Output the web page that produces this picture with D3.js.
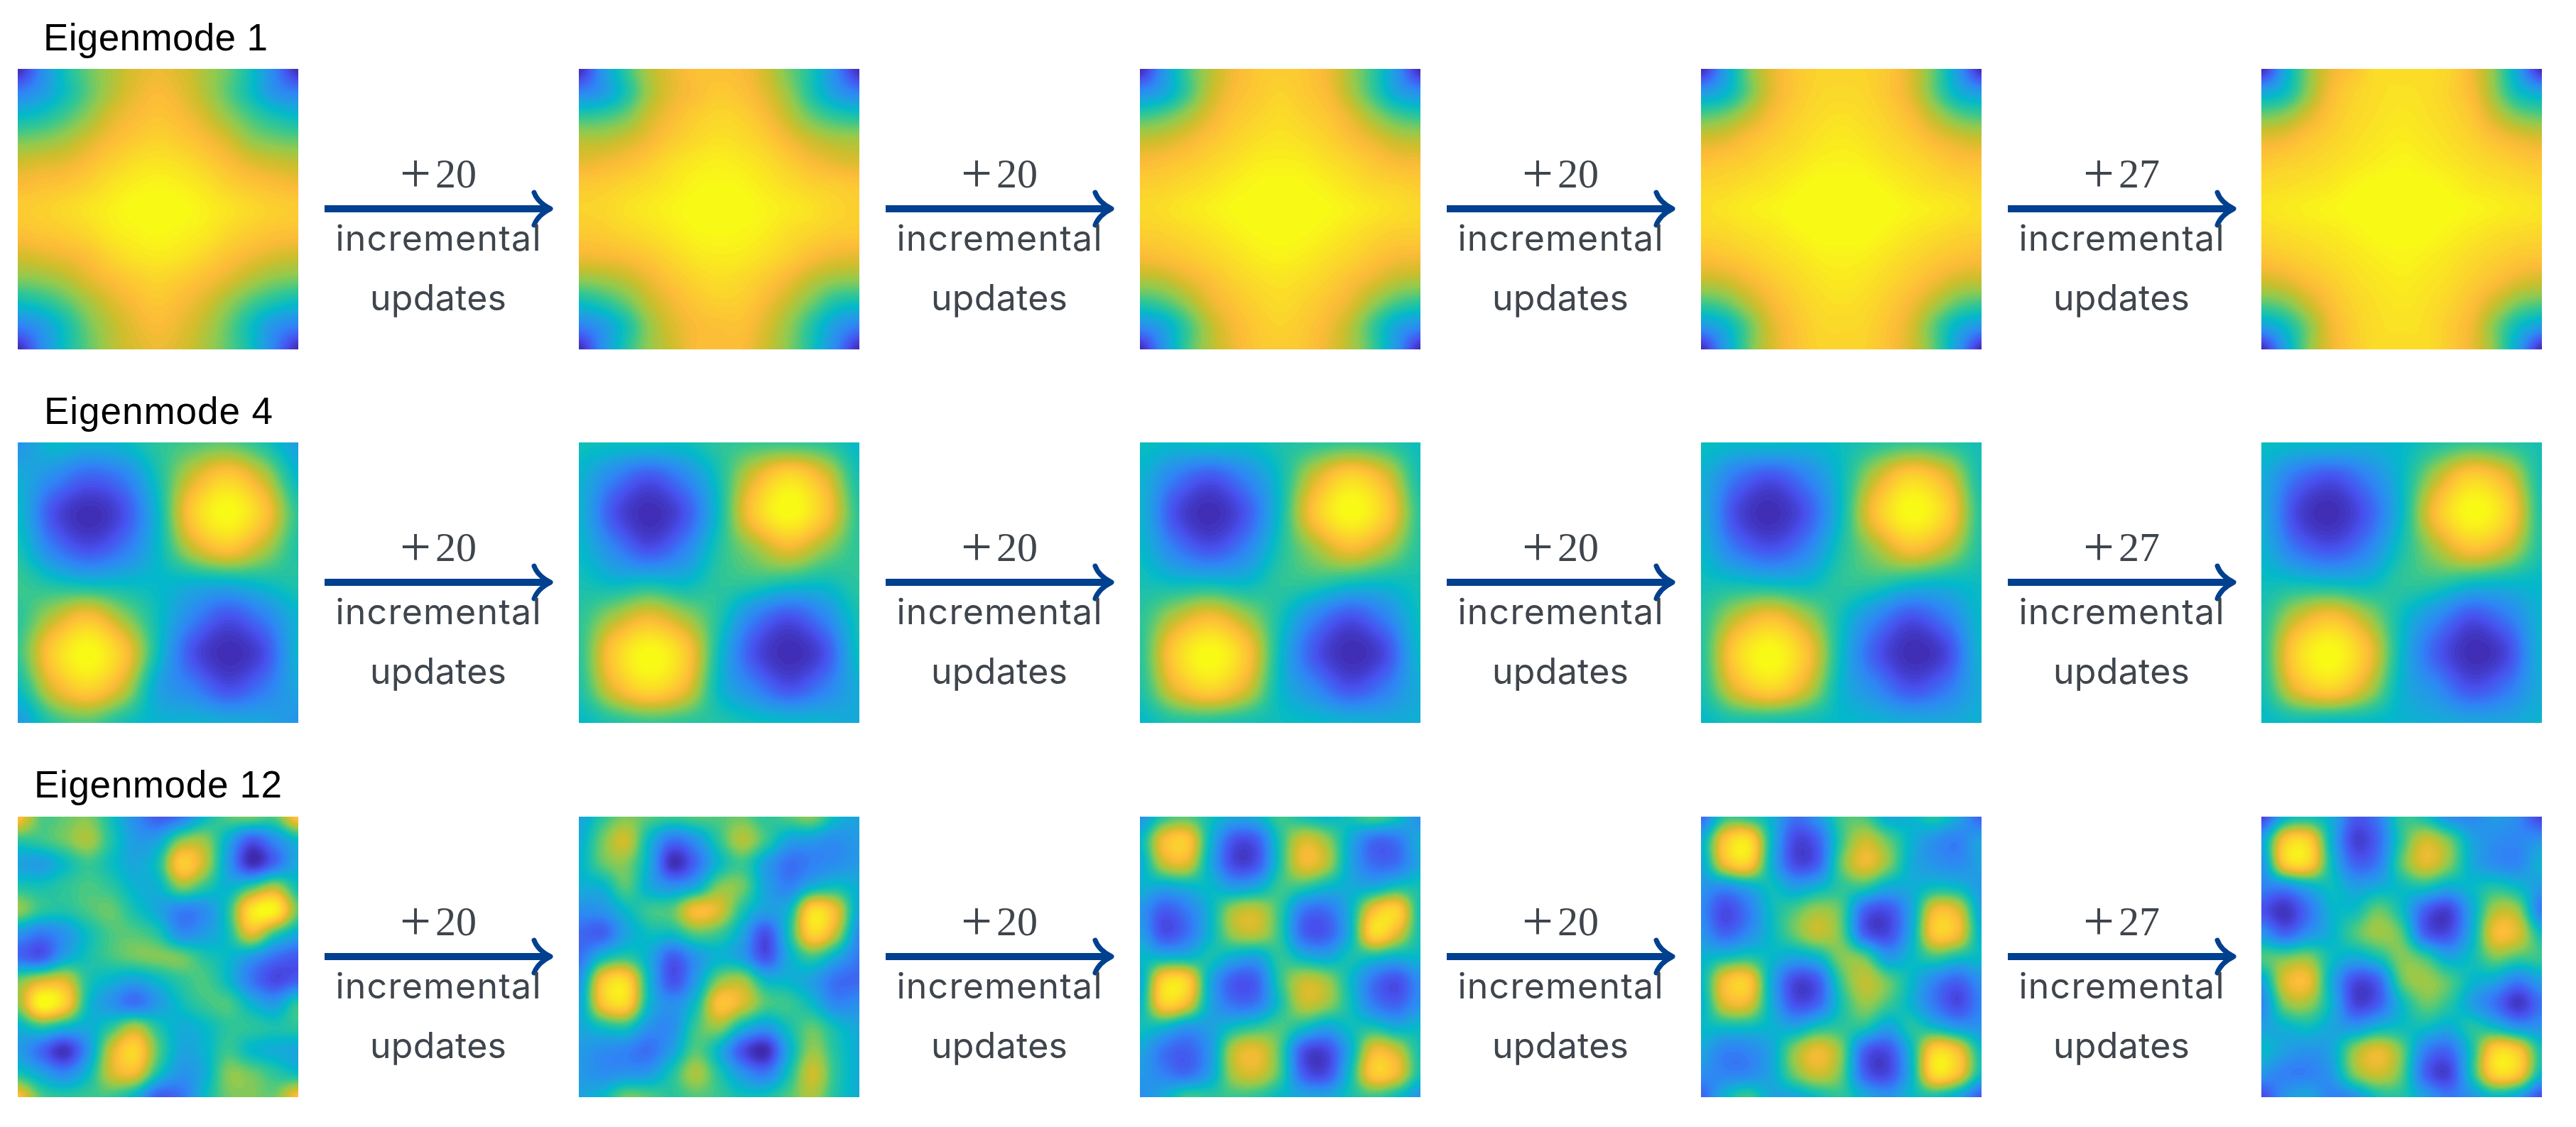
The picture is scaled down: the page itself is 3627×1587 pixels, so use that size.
<!DOCTYPE html>
<html>
<head>
<meta charset="utf-8">
<script src="https://cdn.jsdelivr.net/npm/d3@7"></script>
<style>
  html, body { margin: 0; background: #fff; }
  svg { display: block; }
</style>
</head>
<body>
<div id="chart"></div>
<script>
// labels
const rowLabels = ['Eigenmode 1', 'Eigenmode 4', 'Eigenmode 12'];
const updateCounts = [20, 20, 20, 27];
const captionLines = ['incremental', 'updates'];

// colour map stops, value in percent of the panel range
const colorStops = [0, 12, 25, 36, 42, 52, 62, 70, 78, 87, 100];
const colorValues = ['#3e26a8', '#4750ee', '#2f85f5', '#1aa6dc', '#02b9c9', '#35c790', '#94ca4c', '#cfbd2b', '#fdbb38', '#fbd52c', '#f9fb15'];

// values, 0 to 100, rows top to bottom
const mode1Step0 = [
  [2,26,45,57,65,72,75,72,65,57,44,25,2],
  [24,32,44,56,66,74,78,74,66,56,44,30,24],
  [42,46,53,62,72,78,81,78,71,62,53,46,42],
  [58,60,64,71,78,83,86,83,78,71,62,58,56],
  [70,72,74,79,85,90,92,90,85,79,73,70,68],
  [78,80,82,86,92,96,98,96,92,86,82,79,77],
  [84,85,88,92,96,100,100,100,96,92,88,85,84],
  [80,82,84,88,94,97,99,97,94,88,84,81,80],
  [71,73,76,80,87,92,94,92,87,81,76,72,70],
  [60,62,66,73,79,84,87,84,79,73,66,61,59],
  [44,48,55,64,72,78,82,78,72,63,54,47,43],
  [24,32,45,58,67,74,78,74,67,57,44,30,24],
  [2,26,44,56,66,72,75,72,65,56,44,24,2]
];
const mode1Step1 = [
  [2,30,50,66,74,80,80,78,70,58,46,26,2],
  [25,32,47,64,74,79,83,80,73,62,47,33,24],
  [50,52,58,70,78,84,87,85,78,68,57,50,47],
  [66,66,70,76,83,88,91,89,84,76,69,65,64],
  [74,76,79,84,90,94,96,94,90,84,78,74,72],
  [83,84,87,90,94,98,99,98,94,90,86,84,82],
  [86,87,91,94,97,100,100,100,97,94,91,87,85],
  [83,84,87,90,94,98,99,98,95,90,87,84,83],
  [76,77,79,83,88,93,95,94,90,85,79,75,74],
  [62,64,68,75,82,87,90,88,83,76,68,63,62],
  [44,49,57,68,76,82,85,84,77,68,58,48,45],
  [24,32,46,62,72,78,80,80,72,62,48,33,24],
  [2,28,48,62,70,78,79,78,70,60,46,26,2]
];
const mode1Step2 = [
  [2,30,52,66,76,82,84,82,76,64,50,30,2],
  [28,36,52,68,78,83,86,83,78,66,52,36,28],
  [52,56,64,74,82,86,89,86,82,74,63,54,50],
  [68,70,75,81,86,90,92,90,86,80,74,68,66],
  [78,80,83,87,91,95,96,95,91,87,82,78,77],
  [85,86,89,92,96,99,100,99,96,92,88,86,84],
  [88,90,93,96,99,100,100,100,99,96,93,90,88],
  [85,86,89,92,96,99,100,99,96,92,88,85,85],
  [78,80,83,87,91,95,97,95,91,87,82,78,77],
  [66,68,74,80,86,90,92,90,86,80,74,68,66],
  [50,54,63,74,81,86,89,86,81,74,63,54,50],
  [28,36,52,67,77,83,86,83,77,67,52,36,28],
  [2,30,52,66,75,82,84,82,75,66,52,30,2]
];
const mode1Step3 = [
  [2,32,58,73,82,86,87,86,82,72,56,32,2],
  [32,40,57,73,82,87,88,87,82,73,57,40,32],
  [55,59,68,78,85,89,91,89,85,78,67,57,53],
  [71,73,79,84,88,92,94,92,88,84,77,72,69],
  [81,83,85,89,92,96,97,96,92,89,85,81,80],
  [87,88,91,93,97,100,100,100,97,93,90,88,86],
  [90,92,95,97,100,100,100,100,100,97,95,92,90],
  [87,88,91,93,97,100,100,100,97,93,90,87,86],
  [80,82,85,89,92,96,97,96,92,88,84,81,79],
  [69,71,77,83,88,92,94,92,88,83,77,71,69],
  [53,57,67,77,84,89,91,89,84,77,67,57,53],
  [31,40,56,72,81,87,88,87,81,72,56,40,31],
  [2,32,56,71,80,86,87,86,80,71,56,32,2]
];
const mode1Step4 = [
  [2,36,60,75,82,90,90,90,87,76,60,34,2],
  [36,44,62,78,86,90,91,90,86,78,62,44,36],
  [58,62,72,82,88,91,93,91,88,82,70,60,56],
  [74,76,82,86,90,93,95,93,90,86,80,75,72],
  [83,85,87,90,93,96,98,96,93,90,87,84,82],
  [89,90,92,94,98,100,100,100,98,94,92,90,88],
  [92,94,96,98,100,100,100,100,100,98,96,94,92],
  [88,90,92,94,97,100,100,100,97,94,91,89,88],
  [82,84,87,90,93,96,98,96,93,89,86,83,82],
  [71,74,80,85,90,93,95,93,90,85,80,74,71],
  [56,60,70,80,87,91,93,91,87,80,70,60,56],
  [34,44,60,76,85,90,91,90,84,76,60,44,34],
  [2,34,60,75,84,90,90,90,84,75,60,34,2]
];

const mode4Step0 = [
  [30,42,40,42,50,54,56,48,34],
  [38,27,16,23,46,71,85,69,42],
  [42,12,2,11,42,84,100,83,50],
  [46,23,11,21,42,69,82,67,48],
  [52,46,42,42,42,40,40,44,48],
  [50,67,80,63,44,25,12,23,40],
  [52,85,100,82,44,12,2,10,40],
  [44,73,87,70,36,24,11,21,36],
  [32,50,55,46,40,40,38,36,30]
];
const mode4Step1 = [
  [45,44,44,44,50,52,52,50,42],
  [40,24,13,25,46,73,90,75,46],
  [40,12,2,12,44,83,100,83,50],
  [42,25,11,24,48,63,76,63,50],
  [46,42,44,42,50,50,46,44,50],
  [50,65,76,65,48,24,12,25,46],
  [50,84,100,85,44,12,2,11,44],
  [48,75,90,77,42,25,12,23,38],
  [42,48,52,50,48,44,42,40,36]
];
const mode4Step2 = [
  [44,42,44,43,47,50,52,50,44],
  [40,23,13,25,44,71,88,75,46],
  [40,11,2,13,44,82,100,85,50],
  [42,23,12,24,47,64,78,67,49],
  [46,43,43,42,50,50,45,43,46],
  [50,67,78,65,46,25,12,24,44],
  [50,85,100,83,43,13,2,10,42],
  [48,75,88,73,42,26,12,22,38],
  [42,48,48,46,44,42,40,38,38]
];
const mode4Step3 = [
  [44,42,43,41,44,49,52,50,45],
  [39,21,12,24,43,69,87,75,46],
  [39,10,2,13,43,81,100,86,49],
  [41,21,12,24,47,64,80,69,48],
  [45,44,42,42,50,50,44,42,44],
  [49,68,79,65,45,26,12,23,42],
  [49,86,100,81,43,14,2,9,41],
  [47,75,88,71,41,26,12,21,38],
  [42,46,45,44,42,40,38,37,39]
];
const mode4Step4 = [
  [44,42,42,40,42,48,52,50,46],
  [38,20,12,24,42,67,86,75,46],
  [38,9,2,14,42,80,100,87,48],
  [40,20,12,24,46,65,81,71,48],
  [44,44,42,42,50,50,44,42,42],
  [48,69,80,65,44,27,12,22,40],
  [48,87,100,80,42,15,2,9,40],
  [46,76,87,69,40,27,12,21,38],
  [42,44,42,42,40,38,36,36,40]
];

const mode12Step0 = [
  [80,55,57,60,45,28,15,22,42,55,58,55,82],
  [50,52,58,65,48,33,35,60,62,38,14,27,42],
  [35,33,43,52,44,36,46,84,68,33,3,18,38],
  [48,46,50,54,50,40,40,60,50,40,52,65,45],
  [62,50,48,54,57,46,36,24,28,48,92,97,58],
  [30,22,30,44,54,55,48,28,33,45,74,52,38],
  [18,14,35,46,53,58,60,58,48,42,32,20,14],
  [58,70,72,48,40,35,42,50,54,42,22,10,15],
  [62,100,86,44,30,20,32,44,52,54,40,32,50],
  [40,50,42,38,50,65,48,38,42,50,50,47,50],
  [33,18,4,30,70,87,56,36,40,52,42,38,36],
  [47,35,26,42,70,76,46,30,38,60,58,50,44],
  [80,55,50,52,52,40,15,20,42,58,60,58,80]
];
const mode12Step1 = [
  [35,50,60,55,52,55,55,58,50,55,60,42,35],
  [38,58,70,42,20,30,50,66,52,35,32,28,32],
  [40,56,60,38,3,18,42,52,34,20,24,28,32],
  [38,40,55,38,30,38,60,58,35,25,40,45,38],
  [28,30,42,52,56,78,72,48,34,42,89,76,36],
  [18,16,35,44,44,55,52,36,12,46,87,68,28],
  [20,42,50,38,15,30,40,33,12,38,52,38,22],
  [30,80,88,42,12,32,60,64,42,40,34,20,18],
  [35,80,88,42,28,44,80,72,55,52,42,26,28],
  [36,45,48,30,28,52,62,42,32,46,56,44,36],
  [32,28,25,20,34,55,40,12,2,38,62,48,38],
  [32,28,30,32,48,65,48,30,22,46,70,50,38],
  [35,42,58,55,50,55,52,45,46,55,65,48,38]
];
const mode12Step2 = [
  [30,50,56,45,36,38,52,46,42,46,54,45,28],
  [42,77,82,42,13,15,48,71,62,38,19,21,38],
  [38,68,72,38,10,13,48,75,66,36,19,20,36],
  [40,36,40,42,33,37,52,50,42,38,38,46,46],
  [30,15,23,41,64,68,51,22,20,40,78,86,46],
  [34,12,20,41,63,67,50,17,15,40,88,74,46],
  [42,40,41,46,38,35,50,40,36,46,45,40,42],
  [38,86,85,38,15,17,50,68,63,43,21,12,28],
  [42,85,76,37,20,22,46,68,63,45,23,16,29],
  [45,42,32,34,44,50,54,45,36,44,46,38,42],
  [36,21,16,31,67,74,54,13,10,38,75,69,46],
  [32,24,19,34,65,71,53,15,11,44,83,76,46],
  [28,38,52,50,52,50,42,36,36,46,52,44,30]
];
const mode12Step3 = [
  [18,50,50,40,20,30,52,54,38,40,48,36,16],
  [38,81,91,43,10,16,51,69,57,40,29,24,35],
  [36,76,85,41,11,16,56,75,61,38,30,27,34],
  [30,28,37,44,34,40,50,50,38,38,44,42,32],
  [26,10,22,43,54,63,55,17,12,35,76,72,36],
  [30,17,27,42,57,68,57,16,10,37,82,77,40],
  [40,44,48,42,36,42,60,56,32,42,52,46,42],
  [42,77,82,38,10,15,52,68,57,42,26,17,29],
  [40,72,74,39,12,17,46,62,53,40,22,10,24],
  [42,44,44,40,36,46,50,48,35,48,42,32,30],
  [36,25,26,36,61,75,60,17,12,42,86,78,44],
  [28,25,26,36,58,70,57,16,10,40,90,80,44],
  [16,40,52,36,36,44,50,38,30,42,46,36,14]
];
const mode12Step4 = [
  [8,40,46,38,14,22,50,46,30,26,32,26,8],
  [34,82,85,40,8,18,50,70,59,36,28,26,30],
  [30,83,86,44,17,23,55,73,61,38,28,26,40],
  [24,26,38,44,34,38,44,46,38,42,48,42,32],
  [12,4,20,40,44,57,44,16,8,36,65,62,22],
  [30,17,29,40,54,63,55,16,11,38,76,72,44],
  [54,57,60,44,38,46,60,52,36,44,59,54,52],
  [36,72,76,38,11,17,56,63,55,42,36,24,34],
  [26,60,63,40,9,15,42,57,50,34,20,5,20],
  [34,40,44,36,31,40,44,44,38,48,42,30,30],
  [42,34,30,36,62,74,58,25,18,46,86,81,46],
  [30,24,24,32,60,70,56,17,8,46,87,82,42],
  [10,30,36,24,30,46,48,34,22,30,42,34,10]
];

const rows = [
  [mode1Step0, mode1Step1, mode1Step2, mode1Step3, mode1Step4],
  [mode4Step0, mode4Step1, mode4Step2, mode4Step3, mode4Step4],
  [mode12Step0, mode12Step1, mode12Step2, mode12Step3, mode12Step4]
];

// dimension stuff
const width = 3627;
const height = 1587;
const panelSize = 395;
const panelLeft = [25, 815, 1605, 2395, 3184];
const panelTop = [97, 623, 1150];
const titleBase = [71, 597, 1123];
const titleLeft = [61, 62, 48];
const titleWidth = [316, 322, 349];

// scales
const valueColor = d3.scaleLinear().domain(colorStops).range(colorValues).clamp(true);
// the picture shows 64 flat colour levels, which gives the faint banding
const levels = d3.range(64).map(i => d3.rgb(valueColor((i + 0.5) / 64 * 100)));
const levelScale = d3.scaleQuantize().domain([0, 100]).range(levels);

// catmull-rom through four neighbours, only for shading between the read values
function cubic(a, b, c, d, t) {
  return b + 0.5 * t * (c - a + t * (2 * a - 5 * b + 4 * c - d + t * (3 * (b - c) + d - a)));
}

function shade(grid, gx, gy) {
  const n = grid.length;
  const ix = Math.min(Math.floor(gx), n - 2);
  const iy = Math.min(Math.floor(gy), n - 2);
  const at = (r, c) => grid[Math.max(0, Math.min(n - 1, r))][Math.max(0, Math.min(n - 1, c))];
  const line = r => cubic(at(r, ix - 1), at(r, ix), at(r, ix + 1), at(r, ix + 2), gx - ix);
  return cubic(line(iy - 1), line(iy), line(iy + 1), line(iy + 2), gy - iy);
}

function panelImage(grid) {
  const cell = d3.scaleLinear().domain([0, panelSize - 1]).range([0, grid.length - 1]);
  const canvas = document.createElement('canvas');
  canvas.width = panelSize;
  canvas.height = panelSize;
  const ctx = canvas.getContext('2d');
  const img = ctx.createImageData(panelSize, panelSize);
  for (let y = 0; y < panelSize; y++) {
    for (let x = 0; x < panelSize; x++) {
      const col = levelScale(shade(grid, cell(x), cell(y)));
      const k = (y * panelSize + x) * 4;
      img.data[k] = col.r;
      img.data[k + 1] = col.g;
      img.data[k + 2] = col.b;
      img.data[k + 3] = 255;
    }
  }
  ctx.putImageData(img, 0, 0);
  return canvas.toDataURL();
}

const $svg = d3.select('#chart').append('svg')
  .attr('width', width)
  .attr('height', height);

rows.forEach((row, r) => {
  const $row = $svg.append('g').attr('class', 'row');

  $row.append('text')
    .attr('x', titleLeft[r])
    .attr('y', titleBase[r])
    .attr('font-family', 'Liberation Sans')
    .attr('font-size', 53)
    .attr('fill', '#000')
    .attr('textLength', titleWidth[r])
    .text(rowLabels[r]);

  $row.selectAll('image')
    .data(row)
    .enter()
    .append('image')
    .attr('x', (d, i) => panelLeft[i])
    .attr('y', panelTop[r])
    .attr('width', panelSize)
    .attr('height', panelSize)
    .attr('href', d => panelImage(d));

  const $arrow = $row.selectAll('.step')
    .data(updateCounts)
    .enter()
    .append('g')
    .attr('class', 'step')
    .attr('transform', (d, i) => `translate(${panelLeft[i] + 432},${panelTop[r] + 197})`);

  $arrow.append('path')
    .attr('d', 'M0,0H314')
    .attr('stroke', '#00408f')
    .attr('stroke-width', 10)
    .attr('fill', 'none');

  $arrow.append('path')
    .attr('d', 'M295,-23Q300,-9 318,0Q300,9 295,23')
    .attr('stroke', '#00408f')
    .attr('stroke-width', 7)
    .attr('stroke-linecap', 'round')
    .attr('stroke-linejoin', 'round')
    .attr('fill', 'none');

  const $count = $arrow.append('text')
    .attr('x', 160)
    .attr('y', -30)
    .attr('text-anchor', 'middle')
    .attr('font-family', 'Liberation Serif')
    .attr('fill', '#3f454c');

  // the plus is set larger than the digits, as in the math font of the picture
  $count.append('tspan')
    .attr('font-size', 78)
    .attr('dy', 6)
    .text('+');

  $count.append('tspan')
    .attr('font-size', 58)
    .attr('dx', 6)
    .attr('dy', -6)
    .text(d => d);

  $arrow.append('text')
    .attr('x', 160)
    .attr('y', 59)
    .attr('text-anchor', 'middle')
    .attr('font-family', 'Inter')
    .attr('font-size', 50)
    .attr('fill', '#3f454c')
    .attr('textLength', 289)
    .text(captionLines[0]);

  $arrow.append('text')
    .attr('x', 160)
    .attr('y', 143)
    .attr('text-anchor', 'middle')
    .attr('font-family', 'Inter')
    .attr('font-size', 50)
    .attr('fill', '#3f454c')
    .attr('textLength', 192)
    .text(captionLines[1]);
});
</script>
</body>
</html>
